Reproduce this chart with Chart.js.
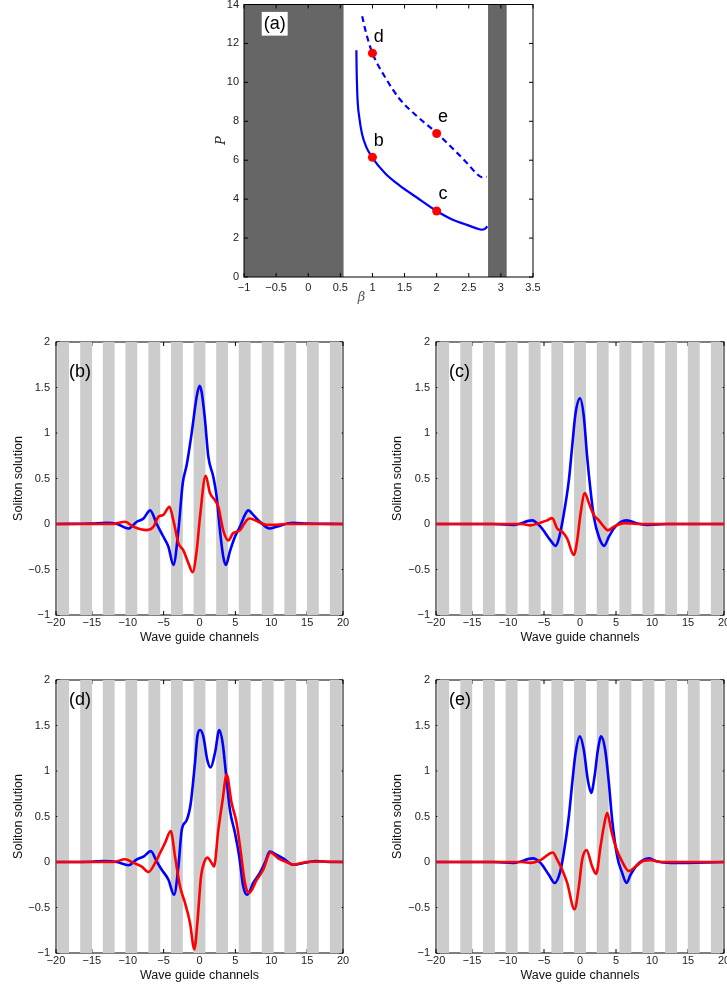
<!DOCTYPE html>
<html>
<head>
<meta charset="utf-8">
<script src="https://cdn.jsdelivr.net/npm/chart.js@4.4.1/dist/chart.umd.min.js"></script>
<style>
  html, body { margin: 0; padding: 0; background: #fff; }
  body { width: 727px; height: 987px; position: relative; overflow: hidden; }
  canvas { position: absolute; }
</style>
</head>
<body>
<canvas id="chart-a" width="360" height="310" style="left:200px;top:0px"></canvas>
<canvas id="chart-b" width="360" height="320" style="left:0px;top:330px"></canvas>
<canvas id="chart-c" width="357" height="320" style="left:370px;top:330px"></canvas>
<canvas id="chart-d" width="360" height="320" style="left:0px;top:668px"></canvas>
<canvas id="chart-e" width="357" height="320" style="left:370px;top:668px"></canvas>
<script>
/* ── Panel (a): power vs propagation constant ── */
const aBetaTicks = [-1, -0.5, 0, 0.5, 1, 1.5, 2, 2.5, 3, 3.5];
const aPTicks    = [0, 2, 4, 6, 8, 10, 12, 14];
const aGaps      = [[-1, 0.55], [2.8, 3.09]];

const aSolidBeta = [0.75, 0.753, 0.759, 0.77, 0.795, 0.837, 0.905, 1.0, 1.2, 1.42, 1.68, 2.0, 2.25, 2.46, 2.62, 2.7, 2.75, 2.79];
const aSolidP    = [11.65, 10.8, 9.93, 9.0, 8.2, 7.36, 6.67, 6.12, 5.32, 4.71, 4.11, 3.39, 2.94, 2.69, 2.5, 2.43, 2.47, 2.6];
const aDashBeta  = [0.84, 0.9, 1.0, 1.2, 1.42, 1.68, 2.0, 2.25, 2.46, 2.62, 2.7, 2.78];
const aDashP     = [13.4, 12.55, 11.5, 10.25, 9.16, 8.3, 7.4, 6.6, 5.9, 5.32, 5.13, 5.15];
const aDotBeta   = [1, 2, 1, 2];
const aDotP      = [6.15, 3.39, 11.5, 7.37];
const aDotNames  = ['b', 'c', 'd', 'e'];

/* ── Panels (b)-(e): soliton profiles ── */
const chanTicks = [-20, -15, -10, -5, 0, 5, 10, 15, 20];
const solTicks  = [-1, -0.5, 0, 0.5, 1, 1.5, 2];
const channelCenters = [-19.0, -15.8, -12.65, -9.5, -6.3, -3.15, 0, 3.15, 6.3, 9.5, 12.65, 15.8, 19.0];
const channelWidth = 1.65;

const bBlueX = [-20, -15, -13, -11.5, -9.9, -8.74, -7.8, -6.88, -5.96, -5.03, -4.33, -3.64, -2.94, -2.34, -1.78, -1.09, -0.39, 0, 0.3, 0.77, 1.23, 1.92, 2.39, 2.85, 3.31, 3.68, 4.24, 4.94, 5.63, 6.33, 6.79, 7.49, 8.41, 9.8, 10.73, 13.05, 15, 20];
const bBlueY = [0, 0.005, 0.012, 0, -0.05, 0.025, 0.06, 0.15, 0.0, -0.14, -0.25, -0.45, -0.07, 0.445, 0.65, 1.0, 1.4, 1.52, 1.45, 1.14, 0.74, 0.52, 0.3, -0.07, -0.36, -0.45, -0.3, -0.14, -0.03, 0.1, 0.15, 0.1, 0.025, -0.05, -0.03, 0.013, 0.005, 0];
const bRedX  = [-20, -12, -10.36, -9.2, -7.35, -6.42, -5.72, -5.03, -4.19, -3.64, -2.94, -2.25, -1.55, -0.95, -0.39, 0.07, 0.86, 1.46, 2.16, 2.62, 3.31, 4.01, 4.7, 5.63, 6.56, 7.02, 8.18, 9.34, 10.27, 12, 20];
const bRedY  = [0, 0, 0.025, -0.03, -0.067, -0.03, 0.08, 0.1, 0.19, 0.04, -0.21, -0.29, -0.43, -0.53, -0.29, 0.08, 0.53, 0.34, 0.26, 0.19, -0.07, -0.18, -0.1, -0.07, 0.04, 0.06, 0.025, -0.01, -0.01, 0, 0];

const cBlueX = [-20, -12, -9.2, -6.65, -5.49, -4.1, -3.4, -2.94, -2.25, -1.55, -1.09, -0.63, 0, 0.53, 0.99, 1.46, 1.92, 2.62, 3.35, 4.01, 4.7, 5.63, 6.47, 7.95, 9.34, 12, 20];
const cBlueY = [0, 0, -0.01, 0.04, -0.03, -0.18, -0.24, -0.16, 0.11, 0.48, 0.85, 1.21, 1.38, 1.18, 0.74, 0.37, 0.08, -0.14, -0.24, -0.14, -0.05, 0.02, 0.04, 0.005, -0.01, 0, 0];
const cRedX  = [-20, -8, -6.88, -5.49, -4.57, -3.87, -3.17, -2.48, -1.78, -0.86, -0.39, 0.07, 0.67, 1.23, 1.92, 2.62, 3.31, 3.87, 4.7, 6.1, 8, 20];
const cRedY  = [0, 0, -0.015, 0.015, 0.04, 0.065, -0.05, -0.085, -0.16, -0.34, -0.18, 0.11, 0.34, 0.23, 0.1, 0.04, -0.03, -0.07, -0.03, 0.01, 0, 0];

const dBlueX = [-20, -15, -13.37, -11.5, -9.9, -8.74, -7.8, -6.79, -5.96, -5.26, -4.33, -3.55, -2.94, -2.48, -1.78, -1.23, -0.63, -0.3, 0.07, 0.53, 1.09, 1.55, 2.16, 2.76, 3.22, 3.68, 4.24, 4.94, 5.54, 6.1, 6.65, 7.49, 8.41, 9.11, 9.8, 10.73, 11.66, 13.05, 14.9, 16.3, 18, 20];
const dBlueY = [0, 0.003, 0.01, 0, -0.035, 0.03, 0.06, 0.12, 0.005, -0.085, -0.195, -0.36, -0.05, 0.35, 0.46, 0.64, 1.09, 1.38, 1.45, 1.38, 1.12, 1.04, 1.2, 1.45, 1.31, 0.98, 0.57, 0.32, 0.06, -0.27, -0.36, -0.23, -0.12, -0.01, 0.115, 0.08, 0.04, -0.03, -0.005, 0.01, 0, 0];
const dRedX  = [-20, -12, -10.36, -9.2, -8.04, -7.11, -6.19, -5.49, -4.8, -4.01, -3.41, -2.71, -2.02, -1.32, -0.72, -0.3, 0.21, 0.63, 1.09, 1.69, 2.02, 2.62, 3.22, 3.78, 4.47, 5.17, 5.72, 6.33, 6.93, 7.95, 8.88, 9.9, 10.96, 12.12, 13.05, 14.9, 17, 20];
const dRedY  = [0, 0, 0.03, -0.01, -0.05, -0.11, -0.01, 0.1, 0.21, 0.34, 0.06, -0.27, -0.45, -0.67, -0.96, -0.67, -0.16, -0.01, 0.05, -0.01, -0.05, 0.35, 0.68, 0.96, 0.65, 0.43, 0.13, -0.23, -0.34, -0.2, -0.085, 0.105, 0.04, 0.0, -0.03, 0, 0.005, 0];

const eBlueX = [-20, -12, -9.2, -6.56, -5.49, -4.33, -3.5, -2.8, -2.25, -1.55, -1.09, -0.63, -0.02, 0.53, 1.09, 1.55, 2.02, 2.48, 2.94, 3.5, 4.01, 4.47, 5.17, 5.86, 6.47, 7.02, 7.95, 9.57, 10.73, 12.6, 20];
const eBlueY = [0, 0, -0.01, 0.04, -0.01, -0.14, -0.23, -0.12, 0.1, 0.5, 0.86, 1.19, 1.38, 1.23, 0.9, 0.76, 0.94, 1.23, 1.38, 1.23, 0.87, 0.46, 0.06, -0.12, -0.23, -0.14, -0.03, 0.04, 0.005, -0.01, 0];
const eRedX  = [-20, -8, -6.88, -5.49, -3.78, -3.17, -2.48, -1.78, -0.77, -0.16, 0.3, 0.9, 1.69, 2.25, 2.85, 3.31, 3.78, 4.33, 4.94, 5.72, 6.79, 7.72, 8.88, 9.8, 11.19, 20];
const eRedY  = [0, 0, -0.01, 0.02, 0.105, 0.025, -0.085, -0.23, -0.52, -0.27, 0.025, 0.13, -0.05, -0.13, 0.17, 0.39, 0.54, 0.35, 0.17, 0.025, -0.1, -0.05, 0.015, 0.02, 0, 0];

/* ── Helpers ── */
const SANS  = "'Liberation Sans', Arial, Helvetica, sans-serif";
const SERIF = "'DejaVu Serif', 'Liberation Serif', serif";
const zip = (xs, ys) => xs.map((v, i) => ({ x: v, y: ys[i] }));
const fmtTick = v => String(v).replace('-', '\u2212');

// frame, inward ticks, shaded bands and text labels (all through the chart's scales)
const framePlugin = {
  id: 'frame',
  beforeDatasetsDraw(chart, args, o) {
    const { ctx, chartArea: a, scales: { x, y } } = chart;
    ctx.save();
    const bands = () => {
      ctx.fillStyle = o.bandColor;
      (o.bands || []).forEach(([b0, b1]) => {
        const p0 = Math.max(x.getPixelForValue(b0), a.left);
        const p1 = Math.min(x.getPixelForValue(b1), a.right);
        ctx.fillRect(p0, a.top, p1 - p0, a.height);
      });
    };
    const frame = () => {
      const L = 4;
      ctx.strokeStyle = '#000'; ctx.lineWidth = 1;
      ctx.strokeRect(a.left, a.top, a.width, a.height);
      ctx.beginPath();
      x.ticks.forEach(t => {
        const p = x.getPixelForValue(t.value);
        ctx.moveTo(p, a.bottom); ctx.lineTo(p, a.bottom - L);
        ctx.moveTo(p, a.top);    ctx.lineTo(p, a.top + L);
      });
      y.ticks.forEach(t => {
        const p = y.getPixelForValue(t.value);
        ctx.moveTo(a.left, p);  ctx.lineTo(a.left + L, p);
        ctx.moveTo(a.right, p); ctx.lineTo(a.right - L, p);
      });
      ctx.stroke();
    };
    if (o.bandsOnTop) { frame(); bands(); } else { bands(); frame(); }
    ctx.restore();
  },
  afterDatasetsDraw(chart, args, o) {
    const { ctx, scales: { x, y } } = chart;
    ctx.save();
    (o.labels || []).forEach(l => {
      if (l.box) {
        const x0 = x.getPixelForValue(l.box[0]), y0 = y.getPixelForValue(l.box[1]);
        const x1 = x.getPixelForValue(l.box[2]), y1 = y.getPixelForValue(l.box[3]);
        ctx.fillStyle = '#fff'; ctx.fillRect(x0, y0, x1 - x0, y1 - y0);
      }
      ctx.font = l.font; ctx.fillStyle = l.color || '#000';
      ctx.textAlign = l.align || 'left'; ctx.textBaseline = 'middle';
      ctx.fillText(l.text, x.getPixelForValue(l.x), y.getPixelForValue(l.y));
    });
    ctx.restore();
  }
};

function axis(min, max, tickVals, title, box) {
  const horiz = box.kind === 'x';
  return {
    type: 'linear', min, max,
    afterBuildTicks: s => { s.ticks = tickVals.map(v => ({ value: v })); },
    afterFit: s => {
      if (horiz) s.height = box.size; else s.width = box.size;
      s.paddingLeft = 0; s.paddingRight = 0; s.paddingTop = 0; s.paddingBottom = 0;
    },
    grid: { display: false, drawTicks: false },
    border: { display: false },
    ticks: { font: { family: SANS, size: 11 }, color: '#222', padding: box.tickPad,
             autoSkip: false, maxRotation: 0, callback: fmtTick },
    title: { display: !!title.text, text: title.text, color: title.color || '#000',
             font: title.font, padding: title.padding }
  };
}

function lineSet(xs, ys, color, extra) {
  return Object.assign({ data: zip(xs, ys), showLine: true, borderColor: color, borderWidth: 2.6,
    pointRadius: 0, cubicInterpolationMode: 'monotone', fill: false }, extra || {});
}

/* ── Panel (a) ── */
new Chart(document.getElementById('chart-a'), {
  type: 'scatter',
  data: { datasets: [
    { data: zip(aDotBeta, aDotP), backgroundColor: '#ff0000', borderWidth: 0, pointRadius: 4.5 },
    lineSet(aSolidBeta, aSolidP, '#0000ff', { borderWidth: 2.2 }),
    lineSet(aDashBeta, aDashP, '#0000ff', { borderWidth: 2.2, borderDash: [6, 4] })
  ] },
  options: {
    responsive: false, animation: false,
    layout: { padding: { top: 4, right: 27, left: 0, bottom: 0 } },
    plugins: {
      legend: { display: false }, tooltip: { enabled: false },
      frame: {
        bands: aGaps, bandColor: '#666666', bandsOnTop: false,
        labels: [
          { text: '(a)', x: -0.52, y: 13.0, align: 'center', font: `18px ${SANS}`, box: [-0.724, 13.62, -0.32, 12.4] },
          ...aDotNames.map((n, i) => ({ text: n, x: aDotBeta[i] + 0.1, y: aDotP[i] + 0.85, align: 'center', font: `18px ${SANS}` })),
          { text: '\u03b2', x: 0.83, y: -1.05, align: 'center', color: '#555', font: `italic 13px ${SERIF}` }
        ]
      }
    },
    scales: {
      x: axis(-1, 3.5, aBetaTicks, { text: '' }, { kind: 'x', size: 33, tickPad: 4 }),
      y: axis(0, 14, aPTicks, { text: 'P', color: '#222', font: { family: SERIF, size: 13, style: 'italic' }, padding: { top: 14, bottom: 0 } }, { kind: 'y', size: 44, tickPad: 5 })
    }
  },
  plugins: [framePlugin]
});

/* ── Panels (b)-(e) ── */
const channelBands = channelCenters.map(c => [c - channelWidth / 2, c + channelWidth / 2]);

function solitonChart(id, tag, tagY, blueX, blueY, redX, redY, yAxisW, yTitlePad) {
  new Chart(document.getElementById(id), {
    type: 'scatter',
    data: { datasets: [
      lineSet(redX, redY, '#ff0000'),
      lineSet(blueX, blueY, '#0000ff')
    ] },
    options: {
      responsive: false, animation: false,
      layout: { padding: { top: 12, right: yAxisW === 56 ? 17 : 3, left: 0, bottom: 0 } },
      plugins: {
        legend: { display: false }, tooltip: { enabled: false },
        frame: {
          bands: channelBands, bandColor: '#cccccc', bandsOnTop: true,
          labels: [{ text: tag, x: -18.2, y: tagY, align: 'left', font: `18px ${SANS}` }]
        }
      },
      scales: {
        x: axis(-20, 20, chanTicks, { text: 'Wave guide channels', color: '#111', font: { family: SANS, size: 12.5 }, padding: { top: 0, bottom: 4.5 } }, { kind: 'x', size: 35, tickPad: 1 }),
        y: axis(-1, 2, solTicks, { text: 'Soliton solution', color: '#111', font: { family: SANS, size: 12.5 }, padding: { top: yTitlePad, bottom: 0 } }, { kind: 'y', size: yAxisW, tickPad: 6 })
      }
    },
    plugins: [framePlugin]
  });
}

solitonChart('chart-b', '(b)', 1.67, bBlueX, bBlueY, bRedX, bRedY, 56, 11);
solitonChart('chart-c', '(c)', 1.67, cBlueX, cBlueY, cRedX, cRedY, 66, 20.5);
solitonChart('chart-d', '(d)', 1.78, dBlueX, dBlueY, dRedX, dRedY, 56, 11);
solitonChart('chart-e', '(e)', 1.78, eBlueX, eBlueY, eRedX, eRedY, 66, 20.5);
</script>
</body>
</html>
